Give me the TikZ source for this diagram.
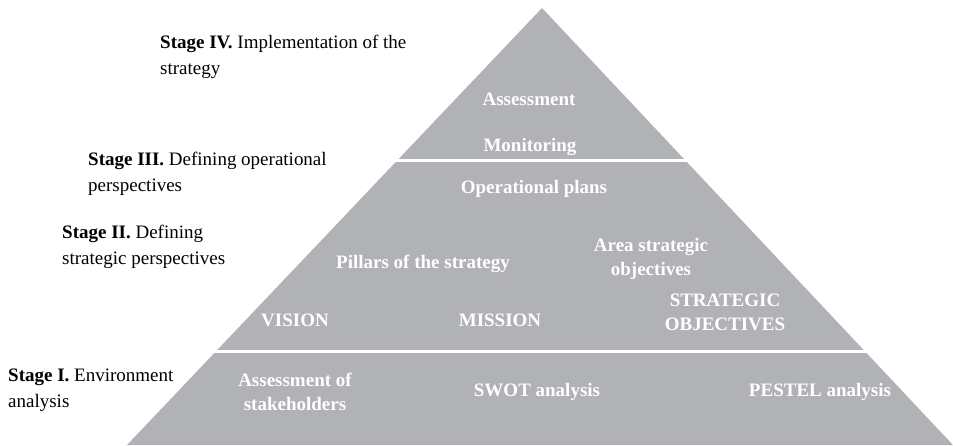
\documentclass[tikz,border=0pt]{standalone}
\usepackage{fontspec}
\setmainfont{Liberation Serif}
\definecolor{pyr}{RGB}{177,178,181}
\begin{document}
\begin{tikzpicture}[x=1pt,y=-1pt,
  inner/.style={text=white,font=\fontsize{19}{24}\selectfont\bfseries,align=center,inner sep=0pt},
  stagelbl/.style={font=\fontsize{19}{26}\selectfont,align=left,anchor=west,inner sep=0pt}]
\useasboundingbox (0,0) rectangle (953,445);
\begin{scope}
  \clip (542,8) -- (953,445) -- (127,445) -- cycle;
  \fill[pyr] (0,0) rectangle (953,159);
  \fill[pyr] (0,162) rectangle (953,350);
  \fill[pyr] (0,353) rectangle (953,446);
\end{scope}
% inner labels
\node[inner] (assess) at (529,99) {Assessment};
\node[inner] (monit) at (530,147) {Monitoring};
\node[inner] (oplans) at (534,189) {Operational plans};
\node[inner] (pillars) at (423,264) {Pillars of the strategy};
\node[inner] (area) at (651,259) {Area strategic\\objectives};
\node[inner] (stratobj) at (725,312.5) {STRATEGIC\\OBJECTIVES};
\node[inner] (vision) at (295,320) {VISION};
\node[inner] (mission) at (500,320) {MISSION};
\node[inner] (stakeh) at (295,392) {Assessment of\\stakeholders};
\node[inner] (swot) at (537,392) {SWOT analysis};
\node[inner] (pestel) at (820,392) {PESTEL analysis};
% stage labels
\node[stagelbl] (s4) at (160,57) {\textbf{Stage IV.} Implementation of the\\strategy};
\node[stagelbl] (s3) at (88,174) {\textbf{Stage III.} Defining operational\\perspectives};
\node[stagelbl] (s2) at (62,247) {\textbf{Stage II.} Defining\\strategic perspectives};
\node[stagelbl] (s1) at (8,390) {\textbf{Stage I.} Environment\\analysis};
\end{tikzpicture}
\end{document}
